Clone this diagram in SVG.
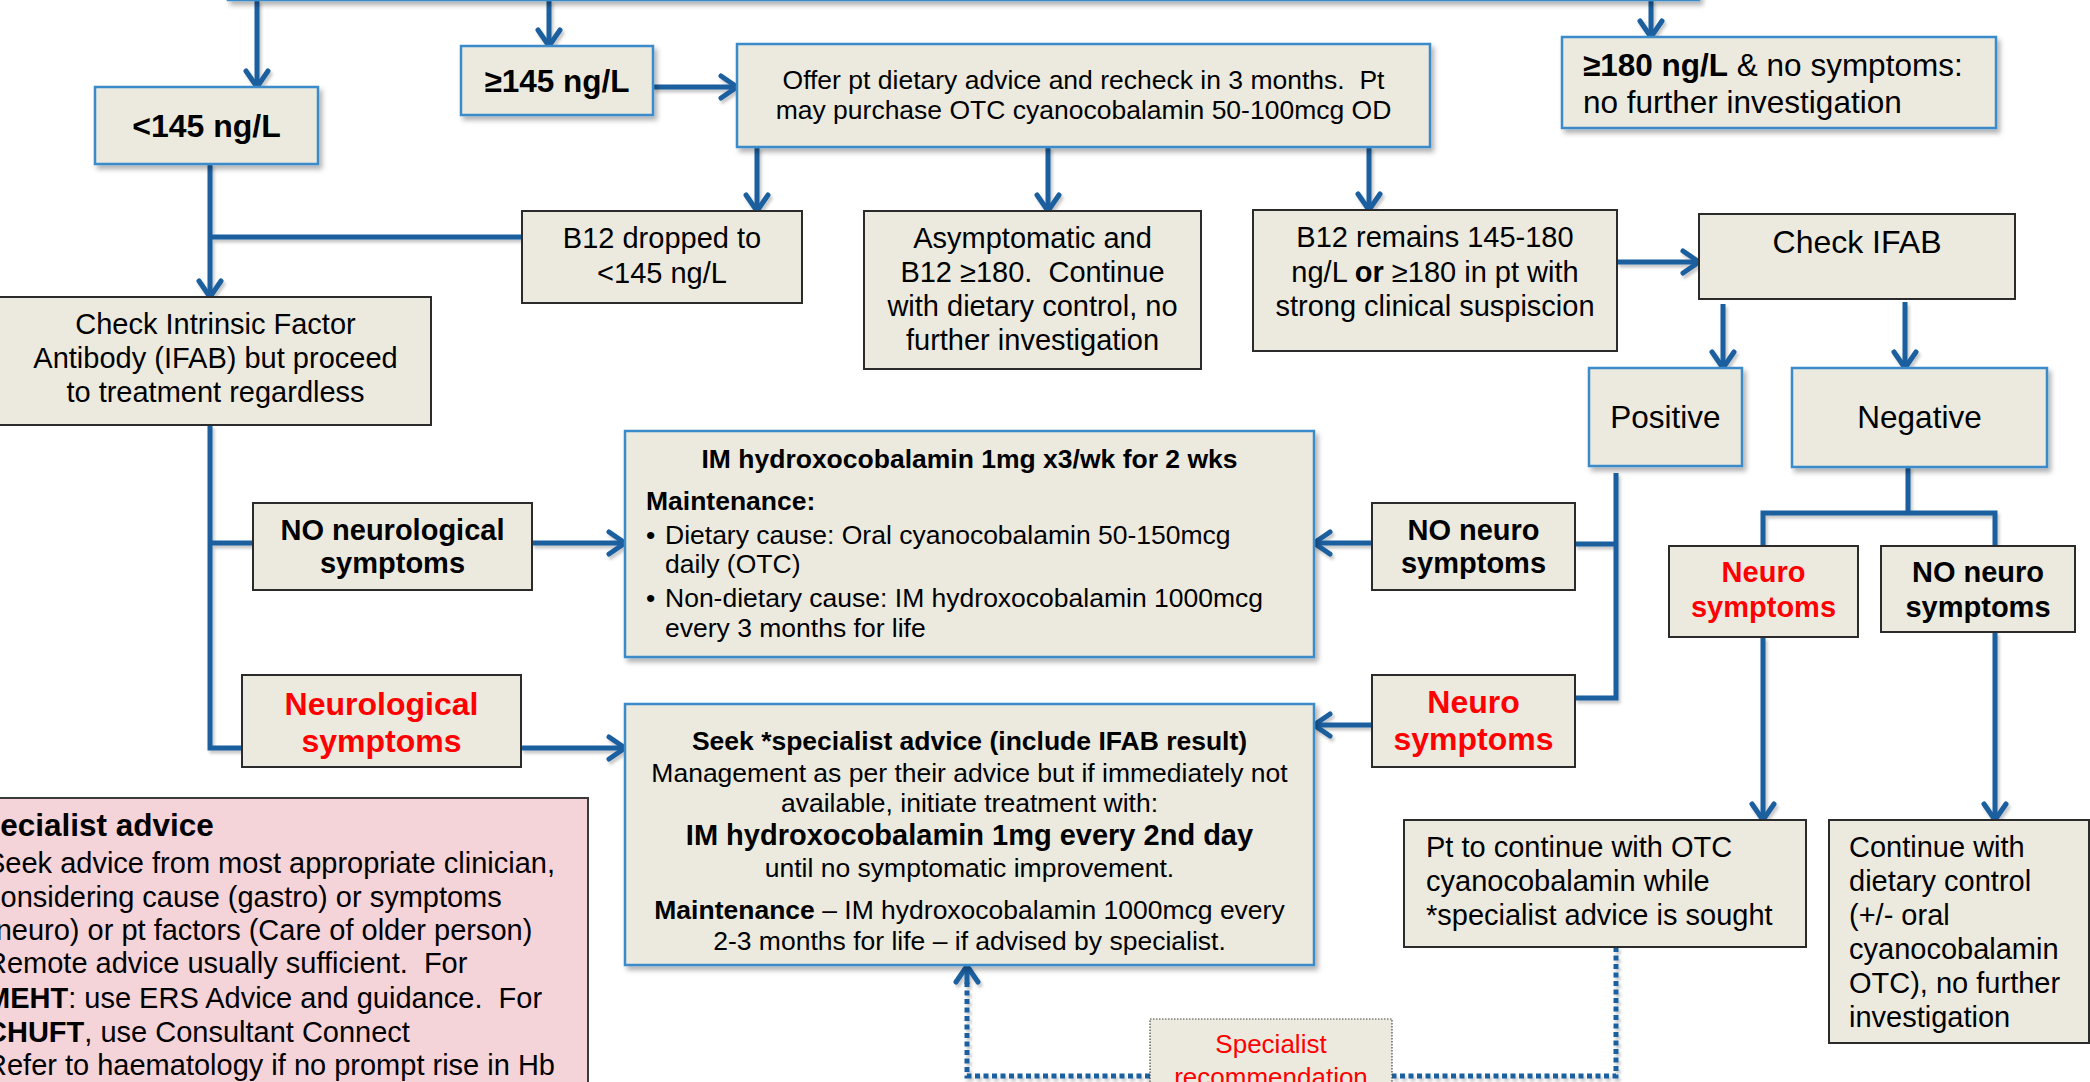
<svg xmlns="http://www.w3.org/2000/svg" width="2090" height="1082" viewBox="0 0 2090 1082">
<style>
  text { font-family: "Liberation Sans", Arial, sans-serif; fill: #000; }
  .c { text-anchor: middle; }
  .f26 { font-size: 26.5px; }
  .f29 { font-size: 29px; }
  .f31 { font-size: 31.5px; }
  .f32 { font-size: 32px; }
  .b { font-weight: bold; }
  .red { fill: #FF0000; }
  .bbox { fill: #ECEADF; stroke: #3B8BCB; stroke-width: 2.5; filter: url(#sh); }
  .dbox { fill: #ECEADF; stroke: #2b2b2b; stroke-width: 2; }
  .pbox { fill: #F4D3D9; stroke: #3a3a3a; stroke-width: 2; }
  .sbox { fill: #ECEADF; stroke: #444; stroke-width: 1.2; stroke-dasharray: 1.5 1.5; }
  .ln { fill: none; stroke: #1B5E9F; stroke-width: 5; }
  .arr { marker-end: url(#ah); }
  .dot { fill: none; stroke: #1B5E9F; stroke-width: 5; stroke-dasharray: 5 3.5; }
</style>
<defs>
  <filter id="sh" x="-10%" y="-10%" width="130%" height="140%">
    <feDropShadow dx="3" dy="4" stdDeviation="2.5" flood-color="#000" flood-opacity="0.3"/>
  </filter>
  <filter id="lsh" x="-20%" y="-20%" width="140%" height="140%">
    <feDropShadow dx="2" dy="3" stdDeviation="1.5" flood-color="#000" flood-opacity="0.22"/>
  </filter>
  <marker id="ah" markerUnits="userSpaceOnUse" markerWidth="30" markerHeight="30" viewBox="0 0 30 30" refX="22" refY="15" orient="auto" overflow="visible">
    <path d="M6,4 L22,15 L6,26" fill="none" stroke="#1B5E9F" stroke-width="5" stroke-linecap="round" stroke-linejoin="miter"/>
  </marker>
</defs>

<g id="connectors" filter="url(#lsh)">
  <path class="ln arr" d="M257,0 V87"/>
  <path class="ln arr" d="M549,0 V46"/>
  <path class="ln arr" d="M1651,0 V37"/>
  <path class="ln arr" d="M653,87 H737"/>
  <path class="ln arr" d="M757,147 V211"/>
  <path class="ln arr" d="M1048,147 V211"/>
  <path class="ln arr" d="M1369,147 V210"/>
  <path class="ln arr" d="M210,164 V297"/>
  <path class="ln" d="M522,237 H210"/>
  <path class="ln arr" d="M1617,262 H1699"/>
  <path class="ln arr" d="M1723,304 V368"/>
  <path class="ln arr" d="M1905,302 V368"/>
  <path class="ln" d="M210,425 V748 H242"/>
  <path class="ln" d="M210,543 H253"/>
  <path class="ln arr" d="M532,543 H625"/>
  <path class="ln arr" d="M521,748 H625"/>
  <path class="ln" d="M1616,473 V698 H1575"/>
  <path class="ln" d="M1616,544 H1575"/>
  <path class="ln arr" d="M1372,543 H1314"/>
  <path class="ln arr" d="M1372,725 H1314"/>
  <path class="ln" d="M1908,467 V513"/>
  <path class="ln" d="M1763,546 V513 H1995 V546"/>
  <path class="ln arr" d="M1763,637 V820"/>
  <path class="ln arr" d="M1995,632 V820"/>
  <path class="dot" d="M1616,947 V1076 H1392"/>
  <path class="dot" d="M1150,1076 H967 V982"/>
  <path class="ln arr" d="M967,984 V966"/>
</g>

<g id="top-box"><rect class="bbox" x="228" y="-60" width="1471" height="60"/></g>

<g id="lt145">
  <rect class="bbox" x="95" y="87" width="223" height="77"/>
  <text class="c f32 b" x="206.5" y="137">&lt;145 ng/L</text>
</g>

<g id="ge145">
  <rect class="bbox" x="461" y="46" width="192" height="69"/>
  <text class="c f31 b" x="557" y="92">≥145 ng/L</text>
</g>

<g id="offer">
  <rect class="bbox" x="737" y="44" width="693" height="103"/>
  <text class="c f26" x="1083.5" y="89">Offer pt dietary advice and recheck in 3 months.&#160; Pt</text>
  <text class="c f26" x="1083.5" y="119">may purchase OTC cyanocobalamin 50-100mcg OD</text>
</g>

<g id="ge180">
  <rect class="bbox" x="1562" y="37" width="434" height="91"/>
  <text class="f31" x="1583" y="76"><tspan class="b">≥180 ng/L</tspan> &amp; no symptoms:</text>
  <text class="f31" x="1583" y="113">no further investigation</text>
</g>

<g id="b12-dropped">
  <rect class="dbox" x="522" y="211" width="280" height="92"/>
  <text class="c f29" x="662" y="248">B12 dropped to</text>
  <text class="c f29" x="662" y="283">&lt;145 ng/L</text>
</g>

<g id="asymptomatic">
  <rect class="dbox" x="864" y="211" width="337" height="158"/>
  <text class="c f29" x="1032.5" y="248">Asymptomatic and</text>
  <text class="c f29" x="1032.5" y="282">B12 ≥180.&#160; Continue</text>
  <text class="c f29" x="1032.5" y="316">with dietary control, no</text>
  <text class="c f29" x="1032.5" y="350">further investigation</text>
</g>

<g id="b12-remains">
  <rect class="dbox" x="1253" y="210" width="364" height="141"/>
  <text class="c f29" x="1435" y="247">B12 remains 145-180</text>
  <text class="c f29" x="1435" y="282">ng/L <tspan class="b">or</tspan> ≥180 in pt with</text>
  <text class="c f29" x="1435" y="316">strong clinical suspiscion</text>
</g>

<g id="check-ifab">
  <rect class="dbox" x="1699" y="214" width="316" height="85"/>
  <text class="c f32" x="1857" y="253">Check IFAB</text>
</g>

<g id="check-intrinsic">
  <rect class="dbox" x="-1" y="297" width="432" height="128"/>
  <text class="c f29" x="215.5" y="334">Check Intrinsic Factor</text>
  <text class="c f29" x="215.5" y="368">Antibody (IFAB) but proceed</text>
  <text class="c f29" x="215.5" y="402">to treatment regardless</text>
</g>

<g id="positive">
  <rect class="bbox" x="1589" y="368" width="153" height="98"/>
  <text class="c f31" x="1665.5" y="428">Positive</text>
</g>

<g id="negative">
  <rect class="bbox" x="1792" y="368" width="255" height="99"/>
  <text class="c f31" x="1919.5" y="428">Negative</text>
</g>

<g id="no-neurological">
  <rect class="dbox" x="253" y="503" width="279" height="87"/>
  <text class="c f29 b" x="392.5" y="540">NO neurological</text>
  <text class="c f29 b" x="392.5" y="573">symptoms</text>
</g>

<g id="neurological">
  <rect class="dbox" x="242" y="675" width="279" height="92"/>
  <text class="c f32 b red" x="381.5" y="715">Neurological</text>
  <text class="c f32 b red" x="381.5" y="752">symptoms</text>
</g>

<g id="im-box">
  <rect class="bbox" x="625" y="431" width="689" height="226"/>
  <text class="c f26 b" x="969.5" y="468">IM hydroxocobalamin 1mg x3/wk for 2 wks</text>
  <text class="f26 b" x="646" y="510">Maintenance:</text>
  <text class="f26" x="646" y="544">•</text>
  <text class="f26" x="665" y="544">Dietary cause: Oral cyanocobalamin 50-150mcg</text>
  <text class="f26" x="665" y="573">daily (OTC)</text>
  <text class="f26" x="646" y="607">•</text>
  <text class="f26" x="665" y="607">Non-dietary cause: IM hydroxocobalamin 1000mcg</text>
  <text class="f26" x="665" y="637">every 3 months for life</text>
</g>

<g id="seek-box">
  <rect class="bbox" x="625" y="704" width="689" height="261"/>
  <text class="c f26 b" x="969.5" y="750">Seek *specialist advice (include IFAB result)</text>
  <text class="c f26" x="969.5" y="782">Management as per their advice but if immediately not</text>
  <text class="c f26" x="969.5" y="812">available, initiate treatment with:</text>
  <text class="c f29 b" x="969.5" y="845">IM hydroxocobalamin 1mg every 2nd day</text>
  <text class="c f26" x="969.5" y="877">until no symptomatic improvement.</text>
  <text class="c f26" x="969.5" y="919"><tspan class="b">Maintenance</tspan> – IM hydroxocobalamin 1000mcg every</text>
  <text class="c f26" x="969.5" y="950">2-3 months for life – if advised by specialist.</text>
</g>

<g id="no-neuro-left">
  <rect class="dbox" x="1372" y="503" width="203" height="87"/>
  <text class="c f29 b" x="1473.5" y="540">NO neuro</text>
  <text class="c f29 b" x="1473.5" y="573">symptoms</text>
</g>

<g id="neuro-left">
  <rect class="dbox" x="1372" y="675" width="203" height="92"/>
  <text class="c f32 b red" x="1473.5" y="713">Neuro</text>
  <text class="c f32 b red" x="1473.5" y="750">symptoms</text>
</g>

<g id="neuro-right">
  <rect class="dbox" x="1669" y="546" width="189" height="91"/>
  <text class="c f29 b red" x="1763.5" y="582">Neuro</text>
  <text class="c f29 b red" x="1763.5" y="617">symptoms</text>
</g>

<g id="no-neuro-right">
  <rect class="dbox" x="1881" y="546" width="194" height="86"/>
  <text class="c f29 b" x="1978" y="582">NO neuro</text>
  <text class="c f29 b" x="1978" y="617">symptoms</text>
</g>

<g id="pt-continue">
  <rect class="dbox" x="1404" y="820" width="402" height="127"/>
  <text class="f29" x="1426" y="857">Pt to continue with OTC</text>
  <text class="f29" x="1426" y="891">cyanocobalamin while</text>
  <text class="f29" x="1426" y="925">*specialist advice is sought</text>
</g>

<g id="continue-dietary">
  <rect class="dbox" x="1829" y="820" width="260" height="223"/>
  <text class="f29" x="1849" y="857">Continue with</text>
  <text class="f29" x="1849" y="891">dietary control</text>
  <text class="f29" x="1849" y="925">(+/- oral</text>
  <text class="f29" x="1849" y="959">cyanocobalamin</text>
  <text class="f29" x="1849" y="993">OTC), no further</text>
  <text class="f29" x="1849" y="1027">investigation</text>
</g>

<g id="specialist-advice-note">
  <rect class="pbox" x="-30" y="798" width="618" height="320"/>
  <text class="f31 b" x="-40" y="836">Specialist advice</text>
  <text class="f29" x="-14" y="873">Seek advice from most appropriate clinician,</text>
  <text class="f29" x="-14" y="907">considering cause (gastro) or symptoms</text>
  <text class="f29" x="-14" y="940">(neuro) or pt factors (Care of older person)</text>
  <text class="f29" x="-14" y="973">Remote advice usually sufficient.&#160; For</text>
  <text class="f29" x="-14" y="1008"><tspan class="b">MEHT</tspan>: use ERS Advice and guidance.&#160; For</text>
  <text class="f29" x="-14" y="1042"><tspan class="b">CHUFT</tspan>, use Consultant Connect</text>
  <text class="f29" x="-14" y="1075">Refer to haematology if no prompt rise in Hb</text>
</g>

<g id="specialist-recommendation">
  <rect class="sbox" x="1150" y="1019" width="242" height="100"/>
  <text class="c red" style="font-size:26px" x="1271" y="1053">Specialist</text>
  <text class="c red" style="font-size:26px" x="1271" y="1086">recommendation</text>
</g>
</svg>
